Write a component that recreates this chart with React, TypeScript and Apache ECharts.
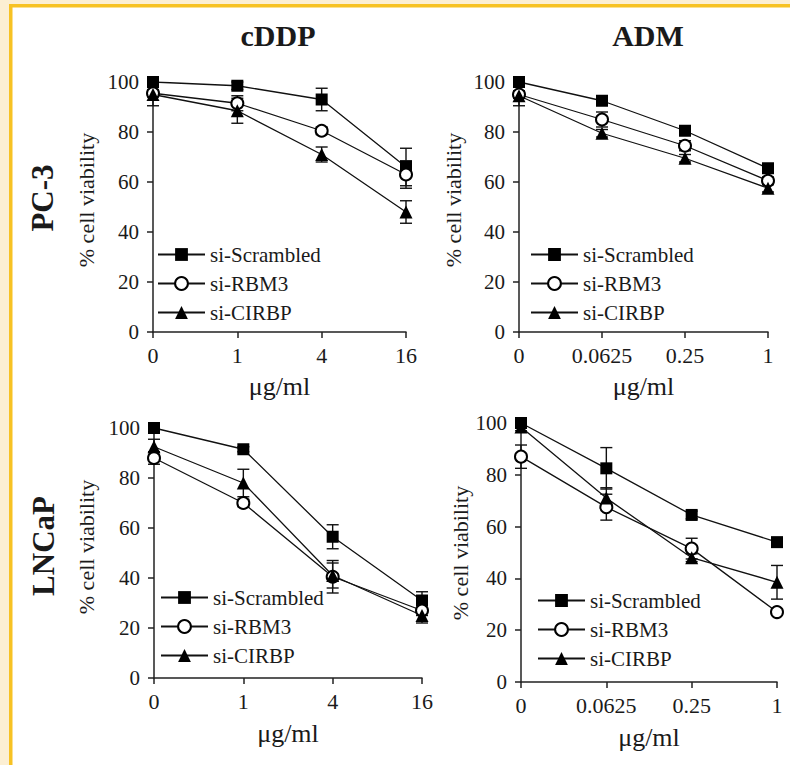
import React, { useEffect, useRef } from "react";
import * as echarts from "echarts";

// ---------- data ----------
const doseCDDP = ["0", "1", "4", "16"];
const doseADM = ["0", "0.0625", "0.25", "1"];
const seriesNames = ["si-Scrambled", "si-RBM3", "si-CIRBP"];
const yTicks = [0, 20, 40, 60, 80, 100];

// PC-3, cDDP
const pc3CddpScr = [100, 98.5, 93, 66];
const pc3CddpRbm = [95.5, 91.5, 80.5, 63];
const pc3CddpCir = [95, 88.5, 71, 48];
const pc3CddpScrErr = [1, 1.5, 4.5, 7.5];
const pc3CddpRbmErr = [1.5, 3, 1.5, 5.5];
const pc3CddpCirErr = [4.5, 5, 3, 4.5];

// PC-3, ADM
const pc3AdmScr = [100, 92.5, 80.5, 65.5];
const pc3AdmRbm = [95, 85, 74.5, 60.5];
const pc3AdmCir = [94.5, 79.5, 69.5, 57.5];
const pc3AdmScrErr = [1, 1.5, 1.5, 1.5];
const pc3AdmRbmErr = [1.5, 3, 2, 1.5];
const pc3AdmCirErr = [4, 1.5, 1.5, 1.5];

// LNCaP, cDDP
const lncCddpScr = [100, 91.5, 56.5, 31];
const lncCddpRbm = [88, 70, 40.5, 27];
const lncCddpCir = [92.5, 78, 41, 25];
const lncCddpScrErr = [1, 1, 4.8, 3.5];
const lncCddpRbmErr = [2.5, 1.5, 6.5, 2];
const lncCddpCirErr = [3, 5.5, 5, 3];

// LNCaP, ADM
const lncAdmScr = [100, 82.5, 64.5, 54];
const lncAdmRbm = [87, 67.5, 51.5, 27];
const lncAdmCir = [98.5, 71, 48, 38.5];
const lncAdmScrErr = [1, 8, 1.5, 1];
const lncAdmRbmErr = [4.5, 5, 4, 1];
const lncAdmCirErr = [1.5, 4, 1.5, 6.5];

// ---------- layout ----------
const FONT = "Liberation Serif, Times New Roman, serif";
const INK = "#1a1a1a";

const panels = [
  {
    cats: doseCDDP,
    vals: [pc3CddpScr, pc3CddpRbm, pc3CddpCir],
    errs: [pc3CddpScrErr, pc3CddpRbmErr, pc3CddpCirErr],
    grid: { left: 153, top: 82, width: 253, height: 250 },
    legend: { left: 157, top: 244 },
    nameGap: 41,
    yName: { x: 86, y: 200 },
  },
  {
    cats: doseADM,
    vals: [pc3AdmScr, pc3AdmRbm, pc3AdmCir],
    errs: [pc3AdmScrErr, pc3AdmRbmErr, pc3AdmCirErr],
    grid: { left: 519, top: 82, width: 249, height: 250 },
    legend: { left: 530, top: 244 },
    nameGap: 41,
    yName: { x: 453, y: 200 },
  },
  {
    cats: doseCDDP,
    vals: [lncCddpScr, lncCddpRbm, lncCddpCir],
    errs: [lncCddpScrErr, lncCddpRbmErr, lncCddpCirErr],
    grid: { left: 154, top: 428, width: 268, height: 250 },
    legend: { left: 160, top: 587 },
    nameGap: 42,
    yName: { x: 86, y: 547 },
  },
  {
    cats: doseADM,
    vals: [lncAdmScr, lncAdmRbm, lncAdmCir],
    errs: [lncAdmScrErr, lncAdmRbmErr, lncAdmCirErr],
    grid: { left: 521, top: 423, width: 256, height: 259 },
    legend: { left: 537, top: 590 },
    nameGap: 42,
    yName: { x: 460, y: 553 },
  },
];

const symbols = [
  { symbol: "rect", size: 12 },
  { symbol: "emptyCircle", size: 12 },
  { symbol: "triangle", size: 13 },
];

function buildOption() {
  const grid = panels.map((p) => ({ ...p.grid, containLabel: false, outerBoundsMode: "none" }));

  const axisLineStyle = { color: "#222", width: 1.5 };

  const xAxis = panels.map((p, i) => ({
    type: "category",
    gridIndex: i,
    data: p.cats,
    boundaryGap: false,
    axisLine: { show: true, lineStyle: axisLineStyle },
    axisTick: { show: true, length: 6, alignWithLabel: true, lineStyle: axisLineStyle },
    axisLabel: { interval: 0, fontFamily: FONT, fontSize: 22, color: INK, margin: 12 },
    splitLine: { show: false },
    name: "μg/ml",
    nameLocation: "middle",
    nameGap: p.nameGap,
    nameTextStyle: { fontFamily: FONT, fontSize: 26, color: INK },
  }));

  const yAxis = panels.map((p, i) => ({
    type: "value",
    gridIndex: i,
    min: yTicks[0],
    max: yTicks[yTicks.length - 1],
    interval: yTicks[1] - yTicks[0],
    axisLine: { show: true, lineStyle: axisLineStyle },
    axisTick: { show: true, length: 6, lineStyle: axisLineStyle },
    axisLabel: { fontFamily: FONT, fontSize: 21, color: INK, margin: 14 },
    splitLine: { show: false },
  }));

  const series: any[] = [];
  panels.forEach((p, i) => {
    p.vals.forEach((vals, k) => {
      const errs = p.errs[k];
      series.push({
        name: seriesNames[k] + " SD",
        type: "custom",
        xAxisIndex: i,
        yAxisIndex: i,
        z: 1,
        silent: true,
        data: vals.map((v, j) => [j, v - errs[j], v + errs[j]]),
        encode: { x: 0, y: [1, 2] },
        renderItem: (params: any, api: any) => {
          const x = api.value(0);
          const top = api.coord([x, api.value(2)]);
          const bot = api.coord([x, api.value(1)]);
          const w = 6;
          const st = { stroke: "#111", lineWidth: 1.4 };
          return {
            type: "group",
            children: [
              { type: "line", shape: { x1: top[0], y1: top[1], x2: bot[0], y2: bot[1] }, style: st },
              { type: "line", shape: { x1: top[0] - w, y1: top[1], x2: top[0] + w, y2: top[1] }, style: st },
              { type: "line", shape: { x1: bot[0] - w, y1: bot[1], x2: bot[0] + w, y2: bot[1] }, style: st },
            ],
          };
        },
      });
      series.push({
        name: seriesNames[k],
        type: "line",
        xAxisIndex: i,
        yAxisIndex: i,
        z: 3,
        data: vals,
        symbol: symbols[k].symbol,
        symbolSize: symbols[k].size,
        showAllSymbol: true,
        lineStyle: { color: "#111", width: 1.3 },
        itemStyle: { color: "#000", borderColor: "#000", borderWidth: k === 1 ? 1.6 : 0 },
        emphasis: { disabled: true },
      });
    });
  });

  const legend = panels.map((p) => ({
    left: p.legend.left,
    top: p.legend.top,
    padding: 0,
    orient: "vertical",
    itemWidth: 47,
    itemHeight: 16,
    itemGap: 8,
    selectedMode: false,
    data: seriesNames,
    textStyle: { fontFamily: FONT, fontSize: 21, color: INK },
  }));

  const txt = (text: string, x: number, y: number, size: number, bold: boolean, rot: number) => ({
    type: "text",
    x,
    y,
    rotation: rot,
    silent: true,
    style: {
      text,
      fontFamily: FONT,
      fontSize: size,
      fontWeight: bold ? "bold" : "normal",
      fill: INK,
      align: "center",
      verticalAlign: "middle",
      textAlign: "center",
      textVerticalAlign: "middle",
    },
  });

  const graphic: any[] = [
    { type: "rect", z: -10, silent: true, shape: { x: 0, y: 0, width: 9, height: 765 }, style: { fill: "#fcefd3" } },
    { type: "rect", z: -10, silent: true, shape: { x: 0, y: 0, width: 790, height: 4 }, style: { fill: "#fcefd3" } },
    { type: "rect", z: -9, silent: true, shape: { x: 9, y: 4, width: 3.5, height: 761 }, style: { fill: "#f7c223" } },
    { type: "rect", z: -9, silent: true, shape: { x: 9, y: 4, width: 781, height: 3.5 }, style: { fill: "#f7c223" } },
    txt("cDDP", 278, 35, 30, true, 0),
    txt("ADM", 648, 35, 30, true, 0),
    txt("PC-3", 42, 198, 31, true, Math.PI / 2),
    txt("LNCaP", 43, 546, 31, true, Math.PI / 2),
    ...panels.map((p) => txt("% cell viability", p.yName.x, p.yName.y, 22, false, Math.PI / 2)),
  ];

  return {
    animation: false,
    backgroundColor: "#ffffff",
    textStyle: { fontFamily: FONT },
    grid,
    xAxis,
    yAxis,
    legend,
    series,
    graphic,
  };
}

export default function App() {
  const ref = useRef<HTMLDivElement>(null);
  useEffect(() => {
    if (!ref.current) return;
    const chart = echarts.init(ref.current, null, { renderer: "svg" });
    chart.setOption(buildOption() as any);
    return () => chart.dispose();
  }, []);
  return (
    <div
      ref={ref}
      style={{ position: "absolute", left: 0, top: 0, width: 790, height: 765, background: "#fff" }}
    />
  );
}
